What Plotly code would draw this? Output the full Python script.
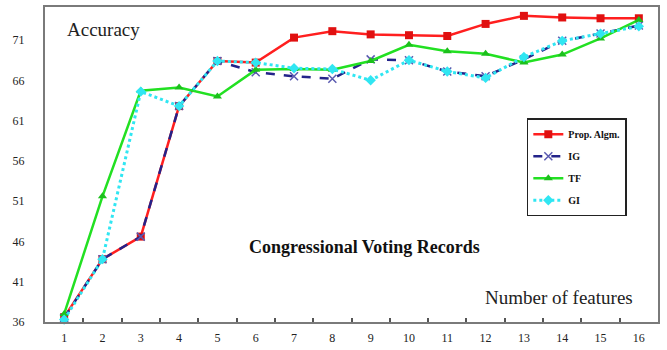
import plotly.graph_objects as go

features = list(range(1, 17))
prop_algm = [36.6, 43.8, 46.6, 62.8, 68.4, 68.2, 71.3, 72.1, 71.7, 71.6, 71.5, 73.0, 74.0, 73.8, 73.7, 73.7]
ig = [36.5, 43.8, 46.6, 62.8, 68.4, 67.0, 66.5, 66.2, 68.6, 68.5, 67.1, 66.5, 68.6, 70.9, 71.8, 72.8]
tf = [37.0, 51.6, 64.7, 65.1, 64.0, 67.3, 67.4, 67.3, 68.4, 70.4, 69.6, 69.3, 68.2, 69.2, 71.2, 73.5]
gi = [36.3, 43.8, 64.6, 62.8, 68.4, 68.2, 67.5, 67.4, 66.0, 68.5, 67.1, 66.3, 68.9, 70.9, 71.8, 72.7]
y_ticks = [36, 41, 46, 51, 56, 61, 66, 71]

SERIF = "Liberation Serif, Times New Roman, serif"

fig = go.Figure()
fig.add_trace(go.Scatter(x=features, y=prop_algm, name="Prop. Algm.", mode="lines+markers", legendgroup="a",
                         line=dict(color="#ff1f1f", width=2.5),
                         marker=dict(symbol="square", size=8, color="#e01010"), cliponaxis=False))
fig.add_trace(go.Scatter(x=features, y=ig, name="IG", mode="lines+markers", legendgroup="b",
                         line=dict(color="#23238a", width=2.5, dash="dash"),
                         marker=dict(symbol="x-thin", size=8, line=dict(color="#5a5ab0", width=1.5)), cliponaxis=False))
fig.add_trace(go.Scatter(x=features, y=tf, name="TF", mode="lines+markers", legendgroup="c",
                         line=dict(color="#22e022", width=2.5),
                         marker=dict(symbol="triangle-up", size=8, color="#1cc01c"), cliponaxis=False))
fig.add_trace(go.Scatter(x=features, y=gi, name="GI", mode="lines+markers", legendgroup="d",
                         line=dict(color="#30e6f2", width=3, dash="dot"),
                         marker=dict(symbol="diamond", size=8, color="#30e6f2"), cliponaxis=False))

fig.update_layout(
    width=667, height=350,
    margin=dict(l=45, r=9, t=5, b=28),
    paper_bgcolor="white", plot_bgcolor="white",
    showlegend=True,
    legend=dict(x=0.786, y=0.647, xanchor="left", yanchor="top", tracegroupgap=3,
                bordercolor="#222222", borderwidth=1.5, bgcolor="white",
                font=dict(family=SERIF, size=10, color="#111111", weight="bold")),
    xaxis=dict(range=[0.5, 16.5], tickvals=features, ticktext=[str(v) for v in features],
               showgrid=False, zeroline=False, showline=True, mirror=True,
               linecolor="#7a7a7a", linewidth=2, ticks="", ticklabelstandoff=4,
               tickfont=dict(family=SERIF, size=12, color="#222222"),
               minor=dict(tickvals=[v + 0.5 for v in features[:-1]], ticks="inside",
                          ticklen=4, tickcolor="#555555", tickwidth=1.5, showgrid=False)),
    yaxis=dict(range=[36, 75.1], tickvals=y_ticks, ticktext=[str(v) for v in y_ticks],
               showgrid=False, zeroline=False, showline=True, mirror=True,
               linecolor="#7a7a7a", linewidth=2, ticks="", ticklabelstandoff=16,
               tickfont=dict(family=SERIF, size=12, color="#222222")),
    annotations=[
        dict(text="Accuracy", x=0.033, y=0.927, xref="paper", yref="paper", xanchor="left",
             yanchor="middle", showarrow=False, font=dict(family=SERIF, size=19, color="#222222")),
        dict(text="<b>Congressional Voting Records</b>", x=0.522, y=0.237, xref="paper", yref="paper",
             xanchor="center", yanchor="middle", showarrow=False,
             font=dict(family=SERIF, size=18, color="#111111")),
        dict(text="Number of features", x=0.839, y=0.079, xref="paper", yref="paper",
             xanchor="center", yanchor="middle", showarrow=False,
             font=dict(family=SERIF, size=19, color="#222222")),
    ],
)

fig.write_html("out.html", config={"displayModeBar": False},
               post_script="document.body.style.margin='0';")
